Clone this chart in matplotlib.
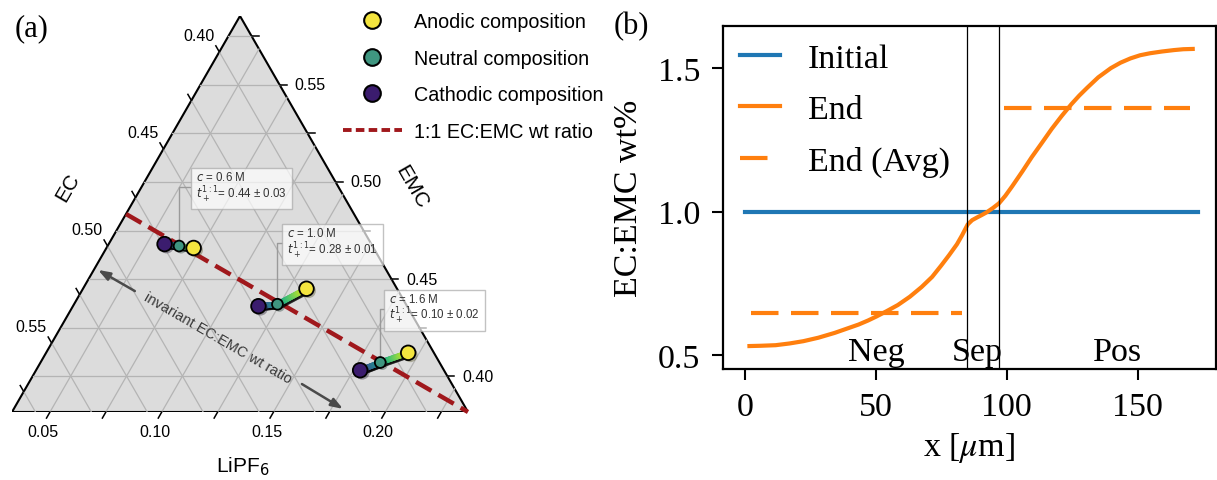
import numpy as np
import matplotlib
matplotlib.use("Agg")
import matplotlib.pyplot as plt
from matplotlib.collections import LineCollection
from matplotlib.lines import Line2D
from matplotlib.patches import Polygon
import matplotlib.patheffects as pe

plt.rcParams["mathtext.fontset"] = "stix"

# ---------------- ternary data: weight fractions (EC, EMC, LiPF6) ----------------
concentrations = ["0.6", "1.0", "1.6"]
tplus_text = ["0.44 ± 0.03", "0.28 ± 0.01", "0.10 ± 0.02"]

cathodic_ec = [0.474, 0.448, 0.419]
cathodic_emc = [0.468, 0.436, 0.403]
cathodic_lipf6 = [0.058, 0.116, 0.178]

neutral_ec = [0.468, 0.439, 0.408]
neutral_emc = [0.467, 0.437, 0.407]
neutral_lipf6 = [0.065, 0.124, 0.185]

anodic_ec = [0.462, 0.422, 0.393]
anodic_emc = [0.466, 0.445, 0.412]
anodic_lipf6 = [0.072, 0.133, 0.195]

# visible window of the ternary diagram
EC_MIN, EMC_MIN, LI_MIN = 0.3815, 0.3815, 0.033
SPAN = 1.0 - EC_MIN - EMC_MIN - LI_MIN
ternary_ticks_ec = [0.400, 0.425, 0.450, 0.475, 0.500, 0.525, 0.550, 0.575]
ternary_ticks_emc = [0.400, 0.425, 0.450, 0.475, 0.500, 0.525, 0.550, 0.575]
ternary_ticks_li = [0.050, 0.075, 0.100, 0.125, 0.150, 0.175, 0.200, 0.225]

# ---------------- profile data (panel b) ----------------
initial_x = [0.0, 173.0]
initial_y = [1.0, 1.0]
end_x = [1.7, 6.0, 11.7, 17.0, 22.3, 28.0, 34.3, 39.0, 43.4, 47.0, 50.2, 54.0,
         58.4, 63.0, 67.5, 71.5, 75.0, 78.0, 81.0, 83.0, 85.1, 86.8, 88.6, 90.5,
         92.3, 94.7, 97.1, 99.5, 102.1, 106.0, 109.6, 113.5, 117.2, 121.0, 124.7,
         127.7, 130.7, 135.0, 139.8, 143.5, 147.3, 151.0, 154.8, 159.3, 163.9,
         167.5, 171.1]
end_y = [0.531, 0.532, 0.534, 0.540, 0.548, 0.560, 0.577, 0.592, 0.606, 0.620,
         0.634, 0.652, 0.674, 0.703, 0.737, 0.772, 0.812, 0.848, 0.886, 0.918,
         0.955, 0.970, 0.979, 0.988, 0.997, 1.012, 1.029, 1.055, 1.088, 1.140,
         1.190, 1.240, 1.288, 1.333, 1.374, 1.404, 1.431, 1.468, 1.500, 1.519,
         1.534, 1.545, 1.552, 1.558, 1.563, 1.566, 1.567]
neg_avg_x = [2.4, 83.0]
neg_avg = 0.646
pos_avg_x = [99.0, 170.0]
pos_avg = 1.362
boundaries = [85.0, 97.0]
regions = ["Neg", "Sep", "Pos"]
region_x = [50.2, 88.6, 142.5]

W, H = 1217, 481
fig = plt.figure(figsize=(W / 100, H / 100), dpi=100)


def fig_rect(left, top, right, bottom):
    return [left / W, 1 - bottom / H, (right - left) / W, (bottom - top) / H]


SQ = np.sqrt(3) / 2


def tern(ec, emc, li):
    emc = np.asarray(emc, float)
    li = np.asarray(li, float)
    a = (li - LI_MIN) / SPAN
    b = (emc - EMC_MIN) / SPAN
    return a + b / 2, b * SQ


SANS = "Liberation Sans"
SERIF = "Liberation Serif"

# ======================= panel (a): ternary diagram =======================
axt = fig.add_axes(fig_rect(12, 17, 468, 413))
axt.set_xlim(0, 1)
axt.set_ylim(0, SQ)
axt.axis("off")

EC_MAX = EC_MIN + SPAN
EMC_MAX = EMC_MIN + SPAN
LI_MAX = LI_MIN + SPAN

axt.add_patch(Polygon([tern(EC_MAX, EMC_MIN, LI_MIN), tern(EC_MIN, EMC_MIN, LI_MAX),
                       tern(EC_MIN, EMC_MAX, LI_MIN)], closed=True,
                      facecolor="#dcdcdc", edgecolor="black", lw=1.5, zorder=0))

grid_kw = dict(color="#b4b4b4", lw=0.9, zorder=1)
for v in ternary_ticks_ec:
    p0 = tern(v, 1 - v - LI_MIN, LI_MIN)
    p1 = tern(v, EMC_MIN, 1 - v - EMC_MIN)
    axt.plot([p0[0], p1[0]], [p0[1], p1[1]], **grid_kw)
for v in ternary_ticks_emc:
    p0 = tern(1 - v - LI_MIN, v, LI_MIN)
    p1 = tern(EC_MIN, v, 1 - v - EC_MIN)
    axt.plot([p0[0], p1[0]], [p0[1], p1[1]], **grid_kw)
for v in ternary_ticks_li:
    p0 = tern(1 - v - EMC_MIN, EMC_MIN, v)
    p1 = tern(EC_MIN, 1 - v - EC_MIN, v)
    axt.plot([p0[0], p1[0]], [p0[1], p1[1]], **grid_kw)

PX = 1 / 456.0
tick_len = 7 * PX


def draw_ticks(points, direction, pad, ha, va, values):
    d = np.array(direction)
    for (x, y), v in zip(points, values):
        axt.plot([x, x + tick_len * d[0]], [y, y + tick_len * d[1]],
                 color="black", lw=1.1, clip_on=False, zorder=2)
        if round(v * 1000) % 50 == 0:
            axt.text(x + (tick_len + pad) * d[0], y + (tick_len + pad) * d[1],
                     f"{v:.2f}", ha=ha, va=va, fontsize=11.5, family=SANS)


draw_ticks([tern(v, 1 - v - LI_MIN, LI_MIN) for v in ternary_ticks_ec],
           (-0.5, SQ), 3 * PX, "right", "bottom", ternary_ticks_ec)
draw_ticks([tern(EC_MIN, v, 1 - v - EC_MIN) for v in ternary_ticks_emc],
           (1.0, 0.0), 8 * PX, "left", "center", ternary_ticks_emc)
draw_ticks([tern(1 - v - EMC_MIN, EMC_MIN, v) for v in ternary_ticks_li],
           (-0.5, -SQ), 7 * PX, "center", "top", ternary_ticks_li)

axt.text(0.123, 0.493, "EC", rotation=60, ha="center", va="center",
         fontsize=15, family=SANS)
axt.text(0.877, 0.493, "EMC", rotation=-60, ha="center", va="center",
         fontsize=15, family=SANS)
axt.text(0.507, -0.118, "LiPF$_6$", ha="center", va="center", fontsize=15,
         family=SANS, math_fontfamily="dejavusans")

# 1:1 EC:EMC line
ratio_li = np.array([LI_MIN, LI_MAX])
rx, ry = tern((1 - ratio_li) / 2, (1 - ratio_li) / 2, ratio_li)
red = "#a0181c"
axt.plot(rx, ry, color=red, lw=3.2, ls=(0, (4.0, 1.8)), zorder=3, clip_on=False)

# composition paths, cathodic -> neutral -> anodic
cmap = plt.get_cmap("viridis")
c_cat, c_neu, c_ano = "#3b1c6e", "#3f9680", "#f4e53f"
shadow = [pe.SimpleLineShadow(offset=(1.5, -1.5), alpha=0.35), pe.Normal()]
for i in range(3):
    px_, py_ = tern([cathodic_ec[i], neutral_ec[i], anodic_ec[i]],
                    [cathodic_emc[i], neutral_emc[i], anodic_emc[i]],
                    [cathodic_lipf6[i], neutral_lipf6[i], anodic_lipf6[i]])
    xs, ys = [], []
    for k in range(2):
        s = np.linspace(0, 1, 30, endpoint=(k == 1))
        xs.extend(px_[k] + s * (px_[k + 1] - px_[k]))
        ys.extend(py_[k] + s * (py_[k + 1] - py_[k]))
    pts = np.column_stack([xs, ys])
    segs = np.stack([pts[:-1], pts[1:]], axis=1)
    t = np.linspace(0, 1, len(segs))
    lc = LineCollection(segs, colors=cmap(0.1 + 0.85 * t), linewidths=4.2,
                        capstyle="round", zorder=4, path_effects=shadow)
    axt.add_collection(lc)

mshadow = [pe.SimplePatchShadow(offset=(1.5, -1.5), alpha=0.35), pe.Normal()]
for ec, emc, li, col, ms in [(cathodic_ec, cathodic_emc, cathodic_lipf6, c_cat, 10.5),
                             (anodic_ec, anodic_emc, anodic_lipf6, c_ano, 10.5),
                             (neutral_ec, neutral_emc, neutral_lipf6, c_neu, 7.8)]:
    mx, my = tern(ec, emc, li)
    axt.plot(mx, my, "o", ms=ms, mfc=col, mec="black", mew=1.3, ls="none",
             zorder=6, path_effects=mshadow)

# concentration / transference boxes
nx, ny = tern(neutral_ec, neutral_emc, neutral_lipf6)
box_offsets = [(17, 59), (10, 61), (9, 54)]   # pixels right / up from point
for i in range(3):
    axt.annotate(f"$c$ = {concentrations[i]} M\n$t_+^{{1:1}}$= {tplus_text[i]}",
                 xy=(nx[i], ny[i]), xytext=box_offsets[i], textcoords="offset pixels",
                 ha="left", va="center", fontsize=8.3, family=SANS, color="#333333",
                 math_fontfamily="dejavusans", linespacing=1.05,
                 bbox=dict(boxstyle="square,pad=0.45", fc="white", ec="#a8a8a8",
                           lw=1.0, alpha=0.7),
                 arrowprops=dict(arrowstyle="-", color="#9a9a9a", lw=1.0,
                                 relpos=(0, 0.5), shrinkA=0, shrinkB=0,
                                 connectionstyle="angle,angleA=0,angleB=90,rad=0"),
                 zorder=5, annotation_clip=False)

# invariant-ratio annotation
arrow_col = "#4a4a4a"
t1 = tern(0.4993, 0.4438, 0.0568)
h1 = tern(0.5104, 0.4547, 0.0349)
t2 = tern(0.4486, 0.3959, 0.1555)
h2 = tern(0.4366, 0.3831, 0.1803)
for tail, head in [(t1, h1), (t2, h2)]:
    axt.annotate("", xy=head, xytext=tail,
                 arrowprops=dict(arrowstyle="-|>,head_length=0.7,head_width=0.25",
                                 color=arrow_col, lw=1.8, shrinkA=0, shrinkB=0),
                 zorder=3)
axt.text(*tern(0.4743, 0.4196, 0.1061), "invariant EC:EMC wt ratio", rotation=-30,
         rotation_mode="anchor", ha="center", va="center", fontsize=10.5,
         family=SANS, color="#3a3a3a", zorder=3)

handles = [Line2D([], [], marker="o", ls="none", ms=12, mfc=c_ano, mec="black", mew=1.5),
           Line2D([], [], marker="o", ls="none", ms=12, mfc=c_neu, mec="black", mew=1.5),
           Line2D([], [], marker="o", ls="none", ms=12, mfc=c_cat, mec="black", mew=1.5),
           Line2D([], [], color=red, lw=2.8, ls=(0, (2.2, 1.1)))]
fig.legend(handles, ["Anodic composition", "Neutral composition",
                     "Cathodic composition", "1:1 EC:EMC wt ratio"],
           loc="upper left", bbox_to_anchor=(335 / W, 1 - 5 / H), frameon=False,
           prop=dict(family=SANS, size=14.2), handlelength=3.0, handletextpad=0.6,
           labelspacing=0.9, borderaxespad=0)

fig.text(32 / W, 1 - 29 / H, "(a)", ha="center", va="center", fontsize=22, family=SERIF)
fig.text(631 / W, 1 - 27 / H, "(b)", ha="center", va="center", fontsize=22, family=SERIF)

# ======================= panel (b): EC:EMC profile =======================
FS = 24.5
axb = fig.add_axes(fig_rect(722.5, 27, 1216, 370))
axb.plot(initial_x, initial_y, color="#1f77b4", lw=3, label="Initial")
axb.plot(end_x, end_y, color="#ff7f0e", lw=3, label="End")
axb.plot(neg_avg_x, [neg_avg, neg_avg], color="#ff7f0e", lw=3,
         dashes=(6.6, 3.0), label="End (Avg)")
axb.plot(pos_avg_x, [pos_avg, pos_avg], color="#ff7f0e", lw=3, dashes=(6.6, 3.0))
for xb in boundaries:
    axb.axvline(xb, color="black", lw=0.9)
for name, xr in zip(regions, region_x):
    axb.text(xr, 0.51, name, ha="center", va="center", fontsize=FS, family=SERIF)

axb.set_xlim(-8.6, 180)
axb.set_ylim(0.451, 1.647)
axb.set_xticks([0, 50, 100, 150])
axb.set_yticks([0.5, 1.0, 1.5])
axb.tick_params(labelsize=FS, length=8, width=1.5, pad=8)
for lab in axb.get_xticklabels() + axb.get_yticklabels():
    lab.set_family(SERIF)
for sp in axb.spines.values():
    sp.set_linewidth(1.6)
axb.set_xlabel(r"x [$\mu$m]", fontsize=FS, family=SERIF, labelpad=6)
axb.set_ylabel("EC:EMC wt%", fontsize=FS, family=SERIF, labelpad=10)
axb.legend(loc="upper left", frameon=False, prop=dict(family=SERIF, size=FS),
           handlelength=1.2, handletextpad=0.8, labelspacing=0.6,
           borderaxespad=0.25, borderpad=0.25)

fig.savefig("out.png", dpi=100)
